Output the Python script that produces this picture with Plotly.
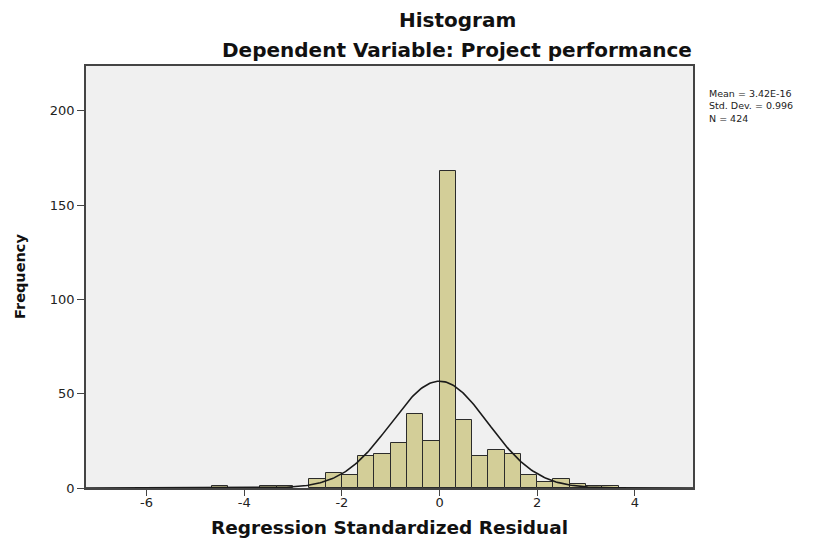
import numpy as np
import plotly.graph_objects as go

# ---- data ----
bin_width = 1 / 3
bin_left = [-4.667, -3.667, -3.333, -2.667, -2.333, -2.0, -1.667, -1.333, -1.0,
            -0.667, -0.333, 0.0, 0.333, 0.667, 1.0, 1.333, 1.667, 2.0, 2.333,
            2.667, 3.0, 3.333]
counts = [1, 1, 1, 5, 8, 7, 17, 18, 24, 39, 25, 168, 36, 17, 20, 18, 7, 3, 5,
          2, 1, 1]
mean_val = 3.42e-16
std_val = 0.996
n_val = 424
x_ticks = [-6, -4, -2, 0, 2, 4]
y_ticks = [0, 50, 100, 150, 200]
stats_lines = ["Mean = 3.42E-16", "Std. Dev. = 0.996", "N = 424"]

# ---- derived ----
centers = [b + bin_width / 2 for b in bin_left]
x_range = [-7.24, 5.19]
xs = np.linspace(x_range[0], x_range[1], 400)
normal_curve = n_val * bin_width * np.exp(-0.5 * ((xs - mean_val) / std_val) ** 2) / (std_val * np.sqrt(2 * np.pi))

# layout geometry (figure pixels; page body adds an 8px offset)
W, H = 829, 540
L, T = 78, 58
PLOT_RIGHT, PLOT_BOTTOM = 685, 480
R, B = W - PLOT_RIGHT, H - PLOT_BOTTOM
plot_w = PLOT_RIGHT - L
plot_h = PLOT_BOTTOM - T
px_per_unit = 1.8865
ymax = plot_h / px_per_unit


def ypaper(py):
    return (PLOT_BOTTOM - py) / plot_h


def xpaper(px):
    return (px - L) / plot_w


fig = go.Figure()
fig.add_trace(go.Bar(
    x=centers, y=counts, width=[bin_width] * len(counts),
    marker=dict(color="#D3CE98", line=dict(color="#2b2b2b", width=1)),
    hoverinfo="x+y", showlegend=False,
))
fig.add_trace(go.Scatter(
    x=xs, y=normal_curve, mode="lines",
    line=dict(color="#1a1a1a", width=1.6), showlegend=False, hoverinfo="skip",
))

fig.update_layout(
    width=W, height=H,
    margin=dict(l=L, r=R, t=T, b=B, autoexpand=False),
    paper_bgcolor="white", plot_bgcolor="#F0F0F0",
    bargap=0,
    font=dict(family="DejaVu Sans", color="#222"),
    xaxis=dict(
        range=x_range, tickvals=x_ticks, ticktext=[str(v) for v in x_ticks],
        ticks="outside", ticklen=6, tickcolor="#444", tickwidth=1.2,
        ticklabelstandoff=-4,
        showline=True, linecolor="#444", linewidth=1.5, mirror=True,
        showgrid=False, zeroline=False,
        tickfont=dict(family="DejaVu Sans", size=13, color="#222"),
    ),
    yaxis=dict(
        range=[0, ymax], tickvals=y_ticks, ticktext=[str(v) for v in y_ticks],
        ticks="outside", ticklen=7, tickcolor="#444", tickwidth=1.2,
        showline=True, linecolor="#444", linewidth=1.5, mirror=True,
        showgrid=False, zeroline=False,
        tickfont=dict(family="DejaVu Sans", size=13, color="#222"),
    ),
)

# main title
fig.add_annotation(
    text="<b>Histogram</b>", xref="paper", yref="paper",
    x=xpaper(449), y=ypaper(12), xanchor="center", yanchor="middle",
    showarrow=False, font=dict(family="DejaVu Sans", size=20, color="#111"),
)

# subtitle
fig.add_annotation(
    text="<b>Dependent Variable: Project performance</b>",
    xref="paper", yref="paper", x=xpaper(449), y=ypaper(42),
    xanchor="center", yanchor="middle", showarrow=False,
    font=dict(family="DejaVu Sans", size=20, color="#111"),
)

# x-axis title
fig.add_annotation(
    text="<b>Regression Standardized Residual</b>",
    xref="paper", yref="paper", x=0.5, y=ypaper(519),
    xanchor="center", yanchor="middle", showarrow=False,
    font=dict(family="DejaVu Sans", size=18.5, color="#111"),
)

# y-axis title
fig.add_annotation(
    text="<b>Frequency</b>", xref="paper", yref="paper",
    x=xpaper(12), y=0.5, xanchor="center", yanchor="middle",
    textangle=-90, showarrow=False,
    font=dict(family="DejaVu Sans", size=14.5, color="#111"),
)

# statistics box
fig.add_annotation(
    text="<br>".join(stats_lines), xref="paper", yref="paper",
    x=xpaper(699), y=ypaper(98), xanchor="left", yanchor="middle",
    align="left", showarrow=False,
    font=dict(family="DejaVu Sans", size=9.5, color="#222"),
)

fig.write_html("out.html")
